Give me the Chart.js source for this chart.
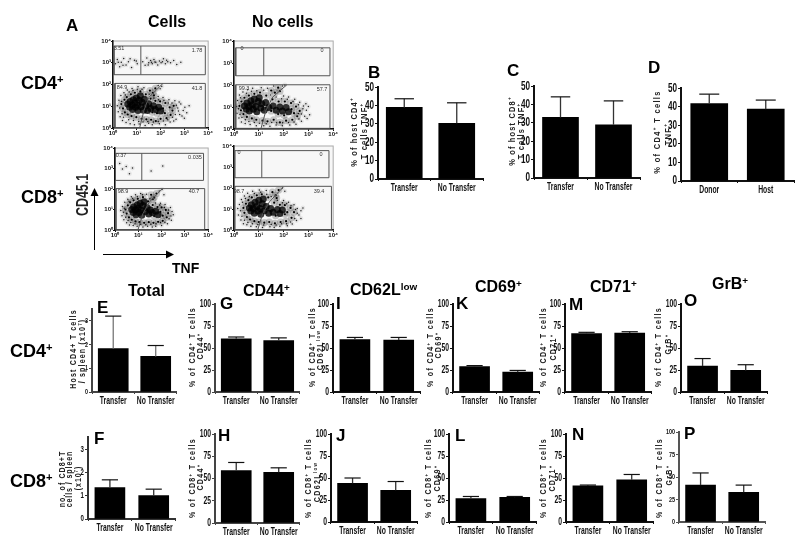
<!DOCTYPE html>
<html><head><meta charset="utf-8">
<script src="https://cdn.jsdelivr.net/npm/chart.js@4"></script>
<style>
html,body{margin:0;padding:0;background:#fff}
#root{position:relative;width:800px;height:546px;overflow:hidden;filter:blur(.4px);font-family:"Liberation Sans",Arial,sans-serif;color:#000}
canvas{position:absolute}
.t{position:absolute;white-space:nowrap;font-weight:bold;line-height:1}
.v{position:absolute;white-space:nowrap;font-weight:bold;line-height:1;transform:translate(-50%,-50%) rotate(-90deg) scale(.83,1.05);color:#222}
.g{position:absolute;white-space:nowrap;font-size:5.5px;line-height:1;transform:translate(-50%,-50%);color:#333}
sup{font-size:.62em;line-height:0;vertical-align:.55em}
</style></head><body><div id="root"></div>
<script>
/* ---------- category and tick labels ---------- */
const transferCategories=['Transfer','No Transfer'];
const donorCategories=['Donor','Host'];
const logTickLabels=['10⁰','10¹','10²','10³','10⁴'];

/* ---------- bar values and error-bar tops ---------- */
const valuesB=[39,30.3],      errorTopB=[43.7,41.5];
const valuesC=[33,29],        errorTopC=[44.2,42];
const valuesD=[41.7,38.7],    errorTopD=[46.8,43.6];
const valuesE=[1.83,1.5],     errorTopE=[3.2,1.96];
const valuesF=[1.35,1.0],     errorTopF=[1.68,1.28];
const valuesG=[60.5,58.5],    errorTopG=[62.5,61.5];
const valuesH=[59,57],        errorTopH=[68,62];
const valuesI=[59.5,59],      errorTopI=[62,62];
const valuesJ=[44,36],        errorTopJ=[50,46];
const valuesK=[29,22.5],      errorTopK=[30,24.5];
const valuesL=[26.5,28],      errorTopL=[29,29];
const valuesM=[66.5,67],      errorTopM=[67.8,68.5];
const valuesN=[41,48],        errorTopN=[42,54];
const valuesO=[29.5,24.5],    errorTopO=[38,31];
const valuesP=[41,33],        errorTopP=[54.5,41];

/* ---------- flow cytometry events, estimated by eye (log10 TNF, log10 CD45.1) ---------- */
const flow1Core=[[.62,1.1],[.7,.95],[.72,1.22],[.8,1.05],[.82,.85],[.85,1.3],[.92,1.15],[.95,.95],[.98,1.38],[1.03,1.05],[1.05,.8],[1.1,1.28],[1.15,1.48],[1.18,.98],[1.22,1.18],[1.28,.82],[1.32,1.32],[1.38,1.02],[1.45,.8],[1.5,1.12],[1.58,.9],[1.7,1.02],[1.78,.85],[1.92,.95],[2,.78]];
const flow1Mid=[[.35,1.1],[.42,.9],[.48,1.3],[.5,.72],[.58,1.42],[.62,.62],[.75,1.55],[.78,.55],[.92,1.62],[.98,.5],[1.15,1.68],[1.2,.42],[1.38,1.55],[1.4,.4],[1.58,1.35],[1.6,.38],[1.78,1.25],[1.8,.32],[1.98,1.22],[2,.42],[2.2,1.15],[2.25,.45],[2.38,.95],[2.42,.6],[2.5,.8],[2.55,1.02],[1.55,1.72],[1.68,1.62],[1.78,1.82],[1.72,1.5],[2.1,.9],[2.18,.68],[1.85,.68],[1.65,.72]];
const flow1Sparse=[[.18,1.02],[.22,.75],[.25,1.28],[.3,.52],[.33,1.5],[.4,.35],[.46,1.62],[.55,.25],[.6,1.75],[.72,.2],[.8,1.82],[.9,.15],[1.05,1.9],[1.1,.18],[1.3,1.85],[1.35,.12],[1.5,.22],[1.65,.15],[1.9,1.45],[1.95,.2],[2.1,1.4],[2.2,.15],[2.35,1.3],[2.4,.28],[2.6,1.25],[2.65,.4],[2.72,.92],[2.8,.62],[2.85,1.1],[2.95,.8],[3,.45],[3.1,.7],[3.2,1.02],[1.9,1.95],[1.98,1.8],[2.05,1.92],[.28,.92],[.38,.66],[.36,1.22],[.52,1.52],[.44,.5],[.66,.38],[.68,1.66],[.86,.34],[.84,1.72],[1.08,.3],[1.02,1.78],[1.26,.28],[1.22,1.78],[1.46,.3],[1.52,1.55],[1.7,.28],[1.72,1.38],[1.9,.3],[1.92,1.3],[2.12,.32],[2.14,1.28],[2.3,.38],[2.32,1.15],[2.5,.5],[2.48,1.15],[2.62,.62],[2.66,1.05],[2.75,.78],[2.55,.32],[2.78,1.2],[3.02,.95],[2.9,.55],
[.1,2.95],[.18,3.15],[.28,2.82],[.35,3.02],[.45,3.2],[.55,2.9],[.65,3.05],[.78,2.78],[.9,3.12],[1.02,2.95],[1.25,3.05],[1.35,2.88],[1.42,3.22],[1.5,3.0],[1.58,3.1],[1.65,2.95],[1.72,3.15],[1.8,3.02],[1.88,2.9],[1.95,3.08],[2.02,3.0],[2.12,3.18],[2.2,2.95],[2.3,3.05],[2.42,3.0],[2.55,3.1],[2.68,2.92],[2.85,3.02],[.22,3.02],[.42,2.88],[.72,3.18],[.98,3.08],[1.48,2.9],[1.62,3.02],[1.76,3.04],[2.08,3.05],[2.25,3.12]];
const flow2Core=[[.42,1.05],[.5,.9],[.52,1.18],[.6,1.02],[.62,.82],[.68,1.28],[.74,1.1],[.78,.9],[.82,1.36],[.88,1.02],[.92,.78],[.98,1.25],[1.02,1.42],[1.08,.95],[1.12,1.15],[1.22,.85],[1.28,1.2],[1.4,.98],[1.58,1.05],[1.7,.85],[1.85,1],[1.95,.82],[2.1,.98],[2.2,.78]];
const flow2Mid=[[.22,1.05],[.28,.85],[.3,1.25],[.38,.68],[.42,1.42],[.52,.55],[.6,1.52],[.72,.48],[.82,1.6],[.9,.42],[1.05,1.66],[1.15,.38],[1.3,1.52],[1.35,.35],[1.55,1.35],[1.6,.42],[1.8,1.25],[1.85,.3],[2.05,1.25],[2.1,.38],[2.3,1.18],[2.35,.42],[2.5,1.02],[2.55,.58],[2.65,.82],[1.5,1.75],[1.65,1.65],[1.78,1.88],[1.85,1.72],[1.5,.82],[1.78,.68],[2.02,.62],[2.32,.9],[2.42,.72]];
const flow2Sparse=[[.1,1.02],[.12,.72],[.14,1.3],[.2,.5],[.22,1.55],[.3,.32],[.36,1.68],[.45,.25],[.55,1.78],[.65,.2],[.75,1.85],[.9,.15],[1.1,1.88],[1.2,.15],[1.35,1.85],[1.45,.12],[1.7,.18],[1.95,.15],[2,1.5],[2.2,1.45],[2.25,.18],[2.45,1.35],[2.5,.22],[2.65,1.22],[2.72,.35],[2.8,1.05],[2.85,.58],[2.92,.85],[3,1.02],[3.05,.65],[1.95,1.95],[2.05,2],[1.6,1.95],[.18,.92],[.24,.66],[.26,1.42],[.32,.52],[.46,.42],[.5,1.62],[.6,.34],[.7,1.72],[.82,.3],[.92,1.74],[1.02,.26],[1.2,1.76],[1.3,.24],[1.48,1.55],[1.52,.3],[1.7,1.45],[1.72,.28],[1.92,1.38],[1.96,.28],[2.15,1.35],[2.2,.3],[2.38,1.25],[2.42,.32],[2.6,1.1],[2.62,.45],[2.72,.68],[2.78,.92],[2.6,.7],[2.9,1.15],[2.95,.48]];
const flow3Core=[[.72,1],[.78,.85],[.8,1.12],[.88,.98],[.9,.75],[.95,1.22],[1,1.05],[1.03,.85],[1.08,1.3],[1.12,.98],[1.15,.72],[1.2,1.2],[1.25,1.38],[1.3,.9],[1.38,1.08],[1.45,.78],[1.52,.98],[1.6,.85],[1.75,.92],[1.85,.75]];
const flow3Mid=[[.45,1],[.5,.8],[.55,1.2],[.6,.62],[.65,1.35],[.72,.5],[.8,1.45],[.88,.42],[.98,1.52],[1.05,.38],[1.2,1.6],[1.25,.35],[1.42,1.4],[1.45,.38],[1.62,1.22],[1.65,.35],[1.82,1.12],[1.85,.4],[2,1.1],[2.05,.45],[2.18,.98],[2.22,.62],[2.28,.82],[1.55,1.72],[1.68,1.58],[1.78,1.78],[1.62,1.5],[1.68,.68],[1.95,.88],[2.05,.7]];
const flow3Sparse=[[.25,.95],[.3,.7],[.32,1.15],[.38,.5],[.42,1.35],[.5,.35],[.55,1.5],[.62,.25],[.7,1.62],[.78,.22],[.88,1.72],[.95,.18],[1.1,1.78],[1.2,.15],[1.35,1.75],[1.4,.18],[1.6,.15],[1.75,.18],[1.95,1.3],[2,.22],[2.15,1.25],[2.25,.3],[2.38,1.1],[2.42,.48],[2.5,.75],[1.9,1.9],[2.02,1.98],[2.1,1.72],[.36,.86],[.4,1.06],[.46,.62],[.56,.46],[.6,1.4],[.68,.36],[.76,1.54],[.86,.3],[.96,1.62],[1.1,.28],[1.18,1.72],[1.32,.26],[1.5,1.52],[1.54,.28],[1.74,1.32],[1.76,.3],[1.92,1.22],[1.95,.36],[2.12,1.1],[2.14,.38],[2.3,.98],[2.32,.55],[2.4,.68],[2.45,.9],
[.2,3.25],[.32,2.98],[.48,3.1],[.75,3.02],[.62,2.75],[1.55,2.88],[2.05,3.12]];
const flow4Core=[[.62,1.05],[.68,.9],[.7,1.2],[.78,1.02],[.82,.8],[.85,1.32],[.92,1.12],[.96,.9],[1,1.42],[1.05,1.02],[1.08,.75],[1.14,1.25],[1.18,1.48],[1.22,.92],[1.3,1.12],[1.4,.8],[1.48,1.02],[1.58,.85],[1.75,.98],[1.85,.78],[1.95,.95]];
const flow4Mid=[[.38,1.05],[.42,.82],[.48,1.25],[.52,.62],[.58,1.42],[.65,.5],[.72,1.55],[.82,.42],[.92,1.65],[1,.38],[1.12,1.7],[1.22,.35],[1.38,1.55],[1.42,.38],[1.62,1.3],[1.65,.32],[1.85,1.2],[1.88,.38],[2.05,1.18],[2.1,.42],[2.28,1.05],[2.32,.58],[2.42,.85],[1.55,1.8],[1.68,1.65],[1.8,1.9],[1.72,1.52],[1.68,.68],[2.05,.75],[2.15,.85]];
const flow4Sparse=[[.15,1.02],[.18,.72],[.22,1.22],[.28,.48],[.3,1.45],[.38,.3],[.42,1.62],[.52,.25],[.55,1.75],[.68,.18],[.75,1.85],[.9,.15],[1.02,1.9],[1.15,.12],[1.3,1.88],[1.45,.15],[1.62,.12],[1.85,.18],[2,1.4],[2.15,.2],[2.2,1.32],[2.35,.28],[2.42,1.2],[2.52,.45],[2.55,1.02],[2.62,.72],[2.7,.92],[1.95,2],[2.05,1.85],[.26,.92],[.32,.66],[.34,1.32],[.42,.46],[.46,1.5],[.56,.36],[.62,1.6],[.74,.3],[.82,1.74],[.96,.26],[1.08,1.8],[1.2,.24],[1.32,1.7],[1.5,.26],[1.5,1.6],[1.7,.24],[1.75,1.42],[1.92,.3],[1.95,1.3],[2.12,.3],[2.12,1.25],[2.28,.38],[2.3,1.15],[2.45,.55],[2.48,.98],[2.55,.8],[2.7,.55],[2.78,1.05]];

/* ---------- gate outlines in axis units ---------- */
const gates1=[[[.04,2.45],[3.88,2.45],[3.88,3.77],[.04,3.77],[.04,2.45]],[[1.17,2.45],[1.17,3.77]],[[.08,.02],[3.88,.02],[3.88,2.05],[.08,2.05],[.08,.02]],[[1.13,.05],[1.3,.8],[1.5,1.4],[2.1,2.05]]];
const gates2=[[[.07,2.42],[3.87,2.42],[3.87,3.69],[.07,3.69],[.07,2.42]],[[1.2,2.42],[1.2,3.69]],[[.07,.03],[3.87,.03],[3.87,2.01],[.07,2.01],[.07,.03]],[[1.09,.03],[1.29,.85],[1.56,1.45],[2.13,2.01]]];
const gates3=[[[.02,2.42],[3.8,2.42],[3.8,3.74],[.02,3.74],[.02,2.42]],[[1.15,2.42],[1.15,3.74]],[[.04,.02],[3.85,.02],[3.85,2.02],[.04,2.02],[.04,.02]],[[.99,.02],[1.2,.8],[1.48,1.37],[2.04,2.02]]];
const gates4=[[[.03,2.49],[3.83,2.49],[3.83,3.78],[.03,3.78],[.03,2.49]],[[1.12,2.49],[1.12,3.78]],[[.03,.02],[3.93,.02],[3.93,2.08],[.03,2.08],[.03,.02]],[[.96,.02],[1.16,.79],[1.43,1.34],[1.99,2.05]]];

/* ---------- text ---------- */
const root=document.getElementById('root');
const FONT='"Liberation Sans",Arial,sans-serif';
function text(html,x,base,size){const d=document.createElement('div');d.className='t';d.innerHTML=html;d.style.left=x+'px';d.style.top=(base-.8465*size)+'px';d.style.fontSize=size+'px';root.appendChild(d)}
function vtext(html,cx,cy,size,sp){const d=document.createElement('div');d.className='v';d.innerHTML=html;d.style.left=cx+'px';d.style.top=cy+'px';d.style.fontSize=size+'px';d.style.letterSpacing=sp+'px';root.appendChild(d)}
function gtext(s,cx,cy){const d=document.createElement('div');d.className='g';d.textContent=s;d.style.left=cx+'px';d.style.top=cy+'px';root.appendChild(d)}

const letters=[['A',66,31],['B',368,78],['C',507,76],['D',648,73],['E',97,313],['G',220,309],['I',336,309],['K',456,309],['M',569,310],['O',684,306],['F',94,444],['H',218,441],['J',336,441],['L',455,441],['N',572,440],['P',684,439]];
letters.forEach(l=>text(l[0],l[1],l[2],17));
const headings=[['Cells',148,28,16],['No cells',252,28,16],['CD4<sup>+</sup>',21,89,18],['CD8<sup>+</sup>',21,203,18],['TNF',172,273,14],['Total',128,297,16],['CD44<sup>+</sup>',243,297,16],['CD62L<sup>low</sup>',350,296,16],['CD69<sup>+</sup>',475,293,16],['CD71<sup>+</sup>',590,293,16],['GrB<sup>+</sup>',712,290,16],['CD4<sup>+</sup>',10,357,18],['CD8<sup>+</sup>',10,487,18]];
headings.forEach(h=>text(h[0],h[1],h[2],h[3]));
vtext('CD45.1',82,195,15,0);
const axisTitles=[
['% of host CD4<sup>+</sup>',354,132,9,1.4],['T cells TNF<sup>+</sup>',364,131,9,1.4],
['% of host CD8<sup>+</sup>',512,131,9,1.4],['T cells TNF<sup>+</sup>',521,131,9,1.4],
['% of CD4<sup>+</sup> T cells',657,132,9,1.6],['TNF<sup>+</sup>',668,134,9,1.6],
['Host CD4+ T cells',73,349,8.5,1.4],['/ spleen (x10<sup>7</sup>)',82,351,8.5,1.4],
['% of CD4<sup>+</sup> T cells',192,347,8.5,1.6],['CD44<sup>+</sup>',200,346,8.5,1.6],
['% of CD4<sup>+</sup> T cells',312,347,8.5,1.6],['CD62L<sup>low</sup>',320,350,8.5,1.6],
['% of CD4<sup>+</sup> T cells',430,347,8.5,1.6],['CD69<sup>+</sup>',438,345,8.5,1.6],
['% of CD4<sup>+</sup> T cells',543,347,8.5,1.6],['CD71<sup>+</sup>',553,347,8.5,1.6],
['% of CD4<sup>+</sup> T cells',658,347,8.5,1.6],['GrB<sup>+</sup>',668,344,8.5,1.6],
['no. of CD8+T',62,479,8.5,1.3],['cells / spleen',69,479,8.5,1.1],['(x10<sup>7</sup>)',78,478,8.5,1.1],
['% of CD8<sup>+</sup> T cells',192,478,8.5,1.6],['CD44<sup>+</sup>',200,477,8.5,1.6],
['% of CD8<sup>+</sup> T cells',308,478,8.5,1.6],['CD62L<sup>low</sup>',317,482,8.5,1.6],
['% of CD8<sup>+</sup> T cells',428,478,8.5,1.6],['CD69<sup>+</sup>',437,478,8.5,1.6],
['% of CD8<sup>+</sup> T cells',543,478,8.5,1.6],['CD71<sup>+</sup>',552,478,8.5,1.6],
['% of CD8<sup>+</sup> T cells',659,478,8.5,1.6],['GrB<sup>+</sup>',669,475,8.5,1.6]];
axisTitles.forEach(a=>vtext(a[0],a[1],a[2],a[3],a[4]));
const gateLabels=[['3.51',119,49],['1.78',197,51],['84.9',122,88],['41.8',197,89],['0',242,49],['0',322,51],['99.3',244,89],['57.7',322,90],['0.37',121,156],['0.035',195,158],['98.9',123,192],['40.7',194,192],['0',239,153],['0',321,155],['98.7',239,192],['39.4',319,192]];

/* arrows */
root.insertAdjacentHTML('beforeend','<svg style="position:absolute;left:0;top:0" width="800" height="546"><path d="M94.5 250V193" stroke="#000" stroke-width="1" fill="none"/><path d="M94.5 188l-4 8h8z"/><path d="M103 254.5H168" stroke="#000" stroke-width="1" fill="none"/><path d="M174 254.5l-8-4v8z"/></svg>');

/* narrow the glyphs of tick labels (no condensed face is installed) */
function narrowText(cv,f){const c=cv.getContext('2d'),orig=c.fillText.bind(c);
  c.fillText=(t,x,y,m)=>{c.save();c.translate(x,y);c.scale(f,1);orig(t,0,0,m);c.restore();};}

/* ---------- chart helpers ---------- */
const errorPlugin={id:'errs',afterDatasetsDraw(c){
  const ds=c.data.datasets[0],m=c.getDatasetMeta(0),ctx=c.ctx,y=c.scales.y;
  ctx.save();ctx.lineCap='butt';
  m.data.forEach((b,i)=>{const t=y.getPixelForValue(ds.errorTop[i]);
    ctx.strokeStyle=ds.stemColor;ctx.lineWidth=1.3;ctx.beginPath();ctx.moveTo(b.x,b.y);ctx.lineTo(b.x,t);ctx.stroke();
    ctx.strokeStyle='#111';ctx.lineWidth=1.2;ctx.beginPath();ctx.moveTo(b.x-ds.capHalf,t);ctx.lineTo(b.x+ds.capHalf,t);ctx.stroke();});
  ctx.restore();}};
function barPanel(o){
  const L=30,T=6,R=6,B=22;
  const cv=document.createElement('canvas');
  const W=o.x1-o.x0,H=o.y0-o.yTop;
  cv.width=W+L+R;cv.height=H+T+B;
  cv.style.left=(o.x0-L)+'px';cv.style.top=(o.yTop-T)+'px';
  root.appendChild(cv);
  narrowText(cv,.68);
  const ac=o.axis||'#111';
  new Chart(cv,{type:'bar',plugins:[errorPlugin],
    data:{labels:o.labels,datasets:[{data:o.values,errorTop:o.err,backgroundColor:'#000',barThickness:o.bar,capHalf:o.bar*.27,stemColor:o.stem||'#333'}]},
    options:{responsive:false,animation:false,devicePixelRatio:1,
      layout:{padding:{left:0,right:R,top:T,bottom:0}},
      plugins:{legend:{display:false},tooltip:{enabled:false},title:{display:false}},
      scales:{
        x:{afterFit(s){s.height=B},border:{color:ac,width:2},grid:{drawOnChartArea:false,drawTicks:true,tickLength:2,color:ac},
           ticks:{font:{family:FONT,size:o.xf||10,weight:'bold'},color:'#111',padding:1,maxRotation:0,autoSkip:false}},
        y:{min:0,max:o.max,afterFit(s){s.width=L},border:{color:ac,width:2},grid:{drawOnChartArea:false,drawTicks:true,tickLength:3,color:ac},
           afterBuildTicks(s){s.ticks=o.ticks.map(v=>({value:v}))},
           ticks:{font:{family:FONT,size:o.yf||11,weight:'bold'},color:'#111',padding:1,autoSkip:false}}
      }}});
}
const pct100=[0,25,50,75,100],pct50=[0,10,20,30,40,50],count=[0,1,2,3];
const bars=[
{values:valuesB,err:errorTopB,labels:transferCategories,x0:378,x1:483,y0:179,yTop:85,bar:36,max:50,ticks:pct50,yf:12},
{values:valuesC,err:errorTopC,labels:transferCategories,x0:534,x1:640,y0:178,yTop:84,bar:36,max:50,ticks:pct50,yf:12},
{values:valuesD,err:errorTopD,labels:donorCategories,x0:681,x1:794,y0:181,yTop:86,bar:37,max:50,ticks:pct50,yf:12},
{values:valuesE,err:errorTopE,labels:transferCategories,x0:92,x1:180,y0:392,yTop:309,bar:30,max:3.5,ticks:count,yf:8,axis:'#444',stem:'#777'},
{values:valuesF,err:errorTopF,labels:transferCategories,x0:88,x1:178,y0:519,yTop:437,bar:30,max:3.5,ticks:count,yf:9,axis:'#333'},
{values:valuesG,err:errorTopG,labels:transferCategories,x0:215,x1:303,y0:392,yTop:303,bar:30,max:100,ticks:pct100,yf:10,axis:'#444'},
{values:valuesH,err:errorTopH,labels:transferCategories,x0:215,x1:303,y0:523,yTop:433,bar:30,max:100,ticks:pct100,yf:10,axis:'#444'},
{values:valuesI,err:errorTopI,labels:transferCategories,x0:333,x1:423,y0:392,yTop:303,bar:30,max:100,ticks:pct100,yf:10},
{values:valuesJ,err:errorTopJ,labels:transferCategories,x0:331,x1:420,y0:522,yTop:433,bar:30,max:100,ticks:pct100,yf:10},
{values:valuesK,err:errorTopK,labels:transferCategories,x0:453,x1:542,y0:392,yTop:303,bar:30,max:100,ticks:pct100,yf:10},
{values:valuesL,err:errorTopL,labels:transferCategories,x0:449,x1:539,y0:522,yTop:433,bar:30,max:100,ticks:pct100,yf:10},
{values:valuesM,err:errorTopM,labels:transferCategories,x0:565,x1:654,y0:392,yTop:303,bar:30,max:100,ticks:pct100,yf:10},
{values:valuesN,err:errorTopN,labels:transferCategories,x0:566,x1:656,y0:522,yTop:433,bar:30,max:100,ticks:pct100,yf:10},
{values:valuesO,err:errorTopO,labels:transferCategories,x0:681,x1:770,y0:392,yTop:303,bar:30,max:100,ticks:pct100,yf:10},
{values:valuesP,err:errorTopP,labels:transferCategories,x0:679,x1:768,y0:522,yTop:432,bar:30,max:100,ticks:pct100,yf:8,axis:'#555'}
];
bars.forEach(barPanel);

/* ---------- flow panels ---------- */
const toXY=a=>a.map(p=>({x:p[0],y:p[1]}));
const flowBg={id:'flowBg',beforeDraw(c){const a=c.chartArea,x=c.ctx;x.save();x.fillStyle='#f7f7f7';x.fillRect(a.left,a.top,a.width,a.height);x.strokeStyle='#aaa';x.lineWidth=1;x.strokeRect(a.left,a.top,a.width,a.height);x.restore();}};
function flowPanel(o){
  const L=13,T=3,R=4,B=11;
  const cv=document.createElement('canvas');
  cv.width=o.x1-o.x0+L+R;cv.height=o.y0-o.yTop+T+B;
  cv.style.left=(o.x0-L)+'px';cv.style.top=(o.yTop-T)+'px';
  cv.style.filter='blur(.3px)';
  root.appendChild(cv);
  const gateSets=o.gates.map(g=>({data:toXY(g),showLine:true,borderColor:'#555',borderWidth:1,pointRadius:0,tension:0}));
  const pts=(d,r,col)=>({data:toXY(d),pointRadius:r,pointBackgroundColor:col,pointBorderWidth:0,showLine:false});
  const tick=()=>({font:{family:FONT,size:6,weight:'bold'},color:'#111',padding:0,stepSize:1,maxRotation:0,autoSkip:false,callback:v=>logTickLabels[v]});
  /* first dataset is painted last */
  new Chart(cv,{type:'scatter',plugins:[flowBg],
    data:{datasets:[...gateSets,pts(o.sparse,.75,'rgba(0,0,0,.85)'),pts(o.mid,1.1,'#000'),pts(o.core,3.5,'rgba(0,0,0,.8)'),pts(o.mid,3.6,'rgba(0,0,0,.2)'),pts(o.sparse,2.4,'rgba(0,0,0,.07)')]},
    options:{responsive:false,animation:false,devicePixelRatio:1,
      layout:{padding:{left:0,right:R,top:T,bottom:0}},
      plugins:{legend:{display:false},tooltip:{enabled:false}},
      scales:{
        x:{type:'linear',min:0,max:4,afterFit(s){s.height=B},border:{color:'#111',width:1.5},grid:{drawOnChartArea:false,tickLength:2,color:'#111'},ticks:tick()},
        y:{type:'linear',min:0,max:4,afterFit(s){s.width=L},border:{color:'#111',width:1.5},grid:{drawOnChartArea:false,tickLength:2,color:'#111'},ticks:tick()}
      }}});
}
flowPanel({x0:113,x1:209,y0:128,yTop:40,gates:gates1,core:flow1Core,mid:flow1Mid,sparse:flow1Sparse});
flowPanel({x0:234,x1:334,y0:129,yTop:40,gates:gates2,core:flow2Core,mid:flow2Mid,sparse:flow2Sparse});
flowPanel({x0:115,x1:209,y0:230,yTop:147,gates:gates3,core:flow3Core,mid:flow3Mid,sparse:flow3Sparse});
flowPanel({x0:234,x1:334,y0:230,yTop:145,gates:gates4,core:flow4Core,mid:flow4Mid,sparse:flow4Sparse});
gateLabels.forEach(g=>gtext(g[0],g[1],g[2]));
</script></body></html>
